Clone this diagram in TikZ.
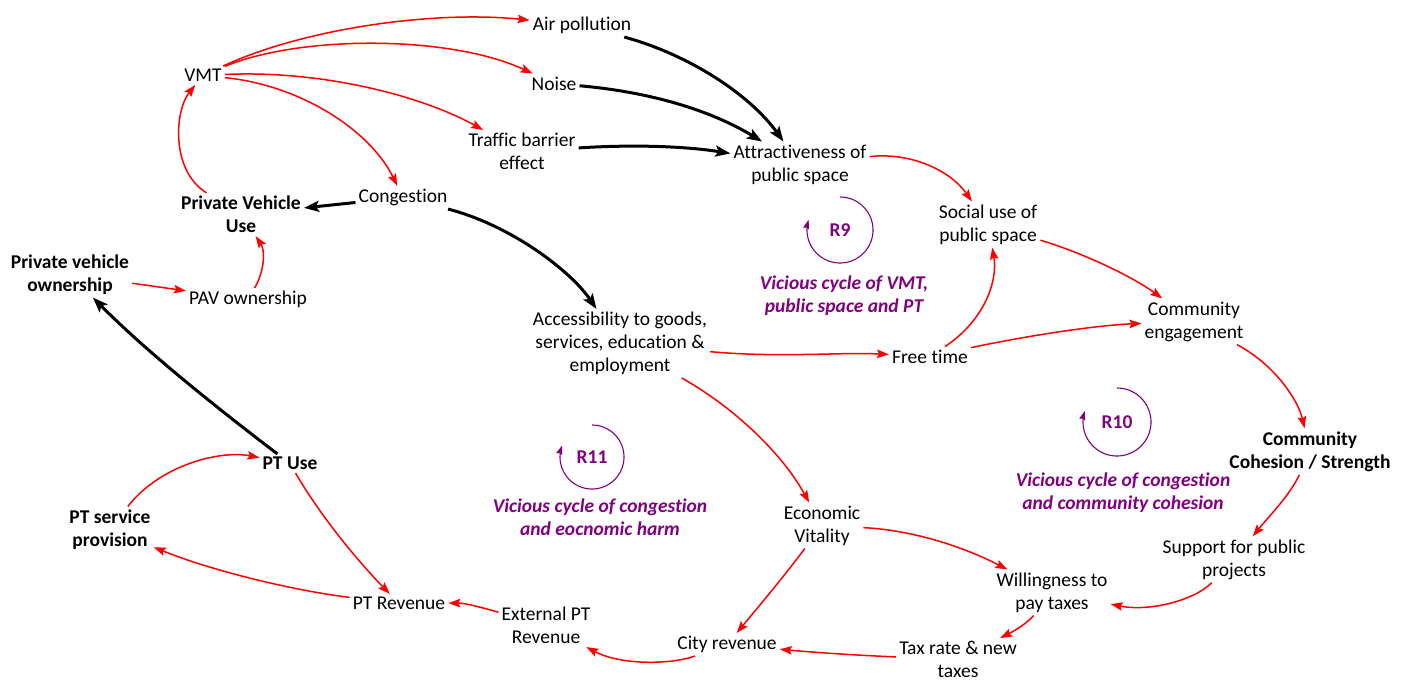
\documentclass[tikz,border=0pt]{standalone}
\usepackage{fontspec}
\setmainfont{Carlito}[Ligatures=NoCommon]
\usetikzlibrary{arrows.meta}
\definecolor{linkred}{RGB}{255,0,0}
\definecolor{loopc}{RGB}{128,0,128}

\begin{document}
\begin{tikzpicture}[x=1pt,y=-1pt,
  lbl/.style={align=center,inner sep=3pt,yshift=-1.5pt,font=\fontsize{19.5}{23}\selectfont},
  blbl/.style={lbl,font=\fontsize{19.5}{23}\selectfont\bfseries},
  looplbl/.style={text=loopc,inner sep=2pt,font=\fontsize{19.5}{23}\selectfont\bfseries},
  loopital/.style={text=loopc,align=center,inner sep=2pt,yshift=-1.5pt,font=\fontsize{19.5}{23}\selectfont\bfseries\itshape},
  redlink/.style={draw=linkred,line width=1.5pt,-{Stealth[length=12pt,width=8.5pt,inset=2pt]}},
  blacklink/.style={draw=black,line width=3pt,-{Stealth[length=15pt,width=11pt,inset=3pt]}},
  loopline/.style={draw=loopc,line width=1.1pt,-{Stealth[length=9pt,width=6pt,inset=1pt]}}
]
\useasboundingbox (0,0) rectangle (1407,681);

% variables
\node[lbl] (air) at (582,24) {Air pollution};
\node[lbl] (noise) at (554,82) {Noise};
\node[lbl] (vmt) at (203,74) {VMT};
\node[lbl] (tbe) at (522,150) {Traffic barrier\\effect};
\node[lbl] (attr) at (800,163) {Attractiveness of\\public space};
\node[lbl] (cong) at (403,196) {Congestion};
\node[blbl] (pvu) at (241,213) {Private Vehicle\\Use};
\node[lbl] (social) at (988,223) {Social use of\\public space};
\node[blbl] (pvo) at (70,273) {Private vehicle\\ownership};
\node[lbl] (pav) at (248,298) {PAV ownership};
\node[lbl] (access) at (620,342) {Accessibility to goods,\\services, education \&\\employment};
\node[lbl] (free) at (930,355) {Free time};
\node[lbl] (ce) at (1194,320) {Community\\engagement};
\node[blbl] (coh) at (1310,450) {Community\\Cohesion / Strength};
\node[blbl] (ptuse) at (290,462) {PT Use};
\node[blbl] (ptsp) at (110,528) {PT service\\provision};
\node[lbl] (ev) at (822,524) {Economic\\Vitality};
\node[lbl] (support) at (1234,558) {Support for public\\projects};
\node[lbl] (will) at (1052,591) {Willingness to\\pay taxes};
\node[lbl] (ptrev) at (399,602) {PT Revenue};
\node[lbl] (ext) at (546,624) {External PT\\Revenue};
\node[lbl] (city) at (727,643) {City revenue};
\node[lbl] (tax) at (958,658) {Tax rate \& new\\taxes};

% loop markers
\node[looplbl] (r9) at (840,230) {R9};
\node[loopital] (t9) at (844,294) {Vicious cycle of VMT,\\public space and PT};
\node[looplbl] (r10) at (1117,422) {R10};
\node[loopital] (t10) at (1123,491) {Vicious cycle of congestion\\and community cohesion};
\node[looplbl] (r11) at (592,457) {R11};
\node[loopital] (t11) at (600,516) {Vicious cycle of congestion\\and eocnomic harm};

\draw[loopline] plot[domain=-90:198,samples=72,smooth] ({840+33*cos(\x)},{230+33*sin(\x)});
\draw[loopline] plot[domain=-90:199,samples=72,smooth] ({1117+34*cos(\x)},{422+34*sin(\x)});
\draw[loopline] plot[domain=-90:201,samples=72,smooth] ({592+32*cos(\x)},{457+32*sin(\x)});

% red links
\draw[redlink] (vmt) .. controls (300,30) and (430,10) .. (air);
\draw[redlink] (vmt) .. controls (300,35) and (450,35) .. (noise);
\draw[redlink] (vmt) .. controls (320,70) and (420,95) .. (tbe);
\draw[redlink] (vmt) .. controls (300,85) and (370,130) .. (cong);
\draw[redlink] (pvu) .. controls (170,170) and (175,110) .. (vmt);
\draw[redlink] (pav) .. controls (265,270) and (265,250) .. (pvu);
\draw[redlink] (pvo) -- (pav);
\draw[redlink] (attr) .. controls (910,152) and (950,170) .. (social);
\draw[redlink] (social) .. controls (1080,252) and (1130,275) .. (ce);
\draw[redlink] (access) .. controls (780,358) and (840,352) .. (free);
\draw[redlink] (free) .. controls (985,320) and (998,280) .. (social);
\draw[redlink] (free) .. controls (1030,335) and (1100,325) .. (ce);
\draw[redlink] (ce) .. controls (1275,365) and (1298,400) .. (coh);
\draw[redlink] (access) .. controls (730,405) and (780,450) .. (ev);
\draw[redlink] (coh) .. controls (1290,495) and (1270,515) .. (support);
\draw[redlink] (ev) .. controls (910,530) and (960,545) .. (will);
\draw[redlink] (support) .. controls (1195,600) and (1150,612) .. (will);
\draw[redlink] (will) .. controls (1030,620) and (1020,628) .. (tax);
\draw[redlink] (tax) .. controls (850,655) and (810,652) .. (city);
\draw[redlink] (ev) .. controls (785,575) and (760,605) .. (city);
\draw[redlink] (city) .. controls (670,665) and (620,665) .. (ext);
\draw[redlink] (ext) .. controls (480,607) and (465,603) .. (ptrev);
\draw[redlink] (ptuse) .. controls (320,515) and (355,558) .. (ptrev);
\draw[redlink] (ptrev) .. controls (290,590) and (210,570) .. (ptsp);
\draw[redlink] (ptsp) .. controls (160,465) and (220,450) .. (ptuse);

% black links
\draw[blacklink] (air) .. controls (690,55) and (750,95) .. (attr);
\draw[blacklink] (noise) .. controls (650,92) and (710,110) .. (attr);
\draw[blacklink] (tbe) .. controls (640,144) and (690,147) .. (attr);
\draw[blacklink] (cong) -- (pvu);
\draw[blacklink] (cong) .. controls (510,225) and (570,270) .. (access);
\draw[blacklink] (ptuse) .. controls (200,395) and (140,345) .. (pvo);
\end{tikzpicture}
\end{document}
